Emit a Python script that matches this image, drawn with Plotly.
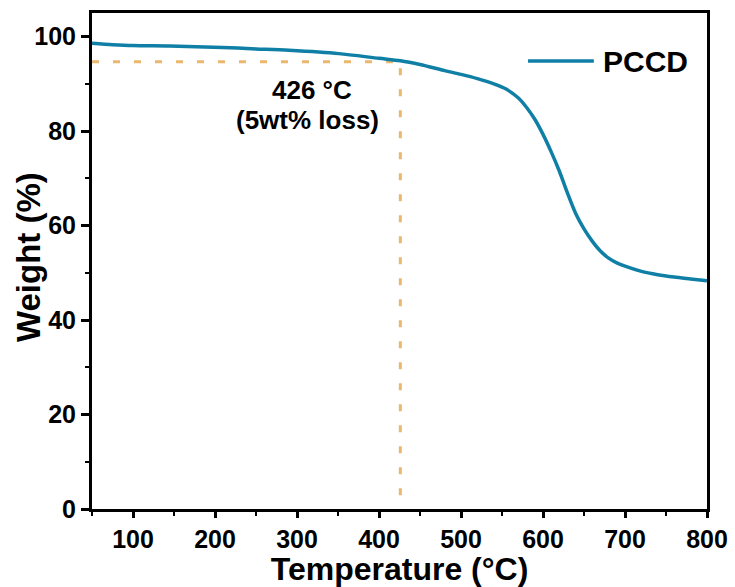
import plotly.graph_objects as go

# ---- data ----
temperature = [50, 75, 100, 145, 209, 250, 290, 351, 400, 426, 450, 480, 500, 520, 540,
               555, 570, 580, 590, 600, 610, 620, 630, 640, 650, 660, 670, 680, 690,
               700, 720, 740, 760, 780, 800]
weight = [98.6, 98.3, 98.1, 98.0, 97.7, 97.4, 97.1, 96.4, 95.4, 94.9, 94.1, 92.8, 92.0,
          91.1, 90.0, 88.9, 87.0, 85.0, 82.5, 79.3, 75.6, 71.5, 66.8, 62.5, 59.3, 56.7,
          54.6, 53.1, 52.1, 51.4, 50.3, 49.6, 49.1, 48.7, 48.3]
series_name = "PCCD"
onset_T = 426
onset_W = 94.7
x_ticks = [100, 200, 300, 400, 500, 600, 700, 800]
y_ticks = [0, 20, 40, 60, 80, 100]

FONT = "Liberation Sans"
BLUE = "#0f7fa6"
ORANGE = "#ebb66e"

fig = go.Figure()

# 5 wt% loss guide lines
fig.add_trace(go.Scatter(
    x=[50, onset_T, onset_T], y=[onset_W, onset_W, 0],
    mode="lines", line=dict(color=ORANGE, width=3, dash="7px,14px"),
    showlegend=False, hoverinfo="skip"))

fig.add_trace(go.Scatter(
    x=temperature, y=weight, mode="lines", name=series_name,
    line=dict(color=BLUE, width=3.5, shape="spline", smoothing=0.8),
    showlegend=False))

axis_common = dict(
    showline=True, linecolor="black", linewidth=3, mirror=True,
    ticks="outside", tickwidth=3, tickcolor="black",
    showgrid=False, zeroline=False, automargin=False,
    tickfont=dict(family=FONT, size=25, color="black", weight="bold"),
)

fig.update_xaxes(
    range=[50, 800], tickvals=x_ticks, ticklen=6,
    minor=dict(ticks="outside", ticklen=4, tickwidth=2, tickcolor="black",
               tick0=0, dtick=50, showgrid=False),
    title=dict(text="Temperature (°C)", standoff=3,
               font=dict(family=FONT, size=32, color="black", weight="bold")),
    **axis_common)

fig.update_yaxes(
    range=[0, 105], tickvals=y_ticks, ticklen=8,
    minor=dict(ticks="outside", ticklen=4, tickwidth=2, tickcolor="black",
               tick0=0, dtick=10, showgrid=False),
    **axis_common)

# y-axis title placed as a rotated annotation for exact position
fig.add_annotation(x=-0.104, y=0.508, xref="paper", yref="paper", text="Weight (%)",
                   textangle=-90, showarrow=False, xanchor="center", yanchor="middle",
                   font=dict(family=FONT, size=33, color="black", weight="bold"))

# annotation for onset
fig.add_annotation(x=318, y=88.8, xref="x", yref="y", text=f"{onset_T} °C",
                   showarrow=False,
                   font=dict(family=FONT, size=26, color="black", weight="bold"))
fig.add_annotation(x=313, y=82.4, xref="x", yref="y", text="(5wt% loss)",
                   showarrow=False,
                   font=dict(family=FONT, size=26, color="black", weight="bold"))

# legend (drawn manually to match long legend line)
fig.add_shape(type="line", xref="paper", yref="paper",
              x0=0.709, x1=0.816, y0=0.903, y1=0.903,
              line=dict(color=BLUE, width=3.5))
fig.add_annotation(x=0.827, y=0.903, xref="paper", yref="paper", text=series_name,
                   showarrow=False, xanchor="left", yanchor="middle",
                   font=dict(family=FONT, size=30, color="black", weight="bold"))

fig.update_layout(
    width=735, height=587,
    margin=dict(l=92, r=28, t=13, b=78),
    plot_bgcolor="white", paper_bgcolor="white",
    showlegend=False,
)

fig.write_html("out.html")
